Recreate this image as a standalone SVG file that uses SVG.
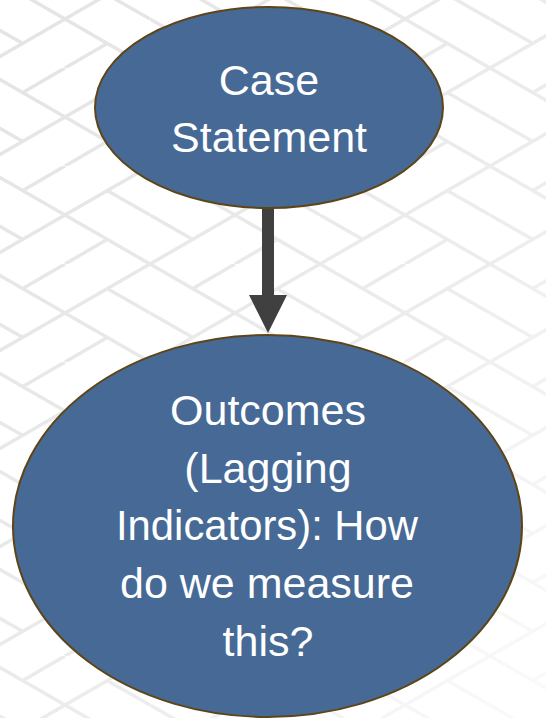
<svg xmlns="http://www.w3.org/2000/svg" width="546" height="718" viewBox="0 0 546 718">
<defs>
<style>
.node{fill:#466A95;stroke:#5E4416;stroke-width:2}
.lbl{font-family:"Liberation Sans",Arial,sans-serif;font-size:43px;fill:#FFFFFF;text-anchor:middle}
.bg{stroke:#E4E4E4;stroke-width:3.5;fill:none}
</style>
<pattern id="hb" width="170" height="98" patternUnits="userSpaceOnUse" x="-20" y="-30">
<path class="bg" d="M0,0 L170,98 M0,98 L170,0 M0,49 L42,73 M128,25 L170,49 M42,25 L85,0 M128,73 L85,98"/>
</pattern>
<linearGradient id="fade" x1="0" y1="0" x2="1" y2="1">
<stop offset="0" stop-color="#fff" stop-opacity="1"/>
<stop offset="0.6" stop-color="#fff" stop-opacity="0.7"/>
<stop offset="1" stop-color="#fff" stop-opacity="0.15"/>
</linearGradient>
<mask id="m"><rect width="546" height="718" fill="url(#fade)"/></mask>
</defs>
<rect width="546" height="718" fill="#FFFFFF"/>
<rect width="546" height="718" fill="url(#hb)" mask="url(#m)"/>
<g id="connectors">
<rect x="262" y="207" width="12" height="90" fill="#404040"/>
<polygon points="249,295 287,295 268,333" fill="#404040"/>
</g>
<g id="case-statement">
<ellipse class="node" cx="269" cy="107.5" rx="174" ry="100.5"/>
<text class="lbl" x="269" y="95">Case</text>
<text class="lbl" x="269" y="152">Statement</text>
</g>
<g id="outcomes">
<ellipse class="node" cx="267.5" cy="526" rx="254.5" ry="191"/>
<text class="lbl" x="268" y="425">Outcomes</text>
<text class="lbl" x="268" y="483">(Lagging</text>
<text class="lbl" x="267" y="540" textLength="302" lengthAdjust="spacingAndGlyphs">Indicators): How</text>
<text class="lbl" x="267" y="598">do we measure</text>
<text class="lbl" x="268" y="656">this?</text>
</g>
</svg>
